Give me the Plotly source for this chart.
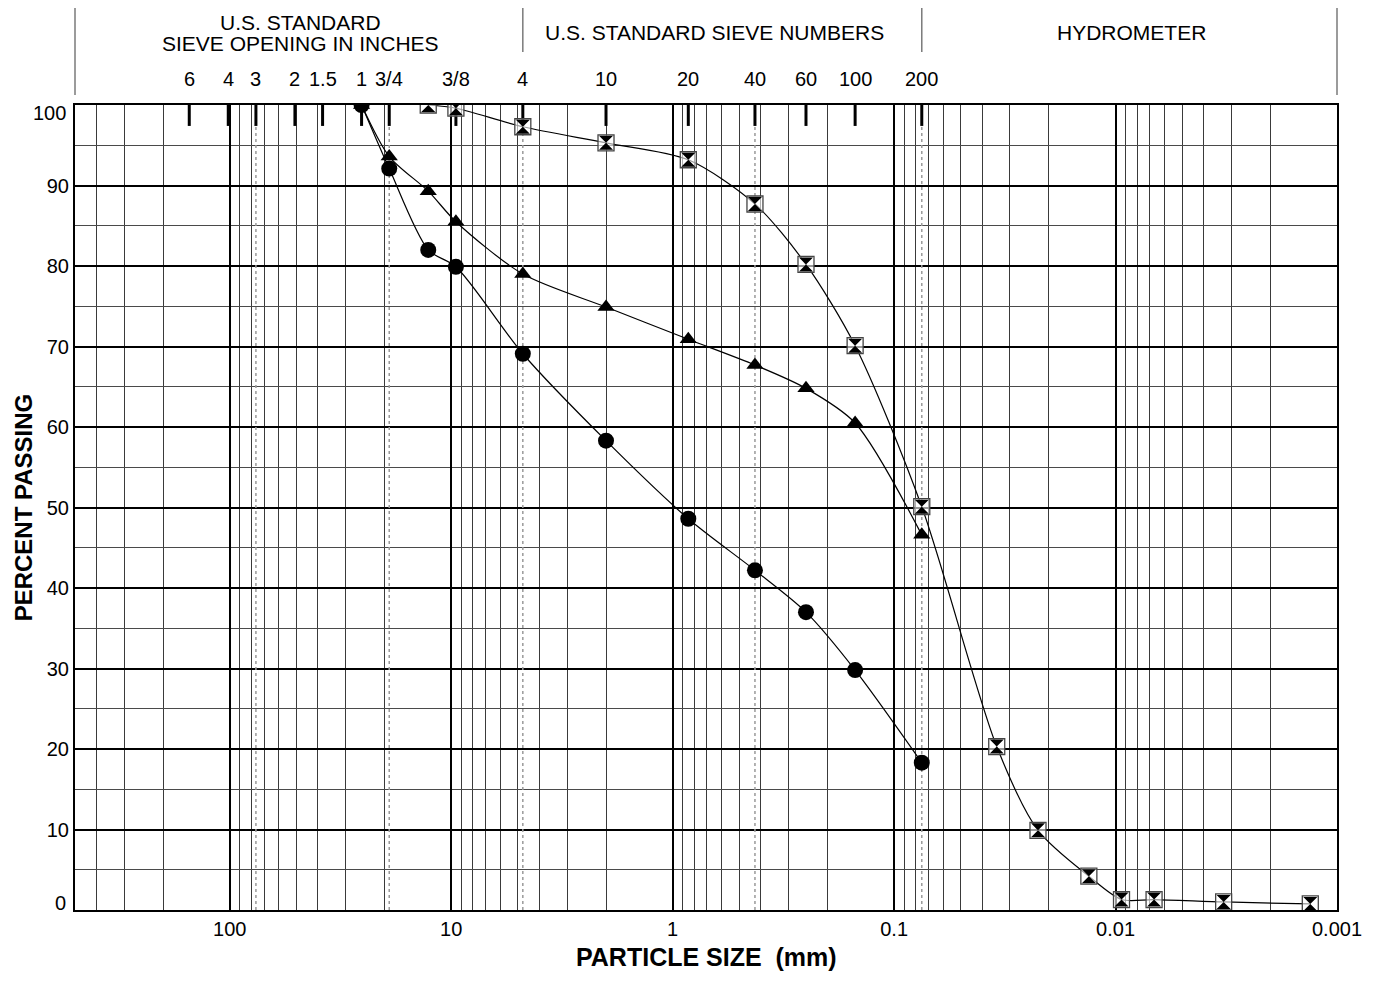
import math
import plotly.graph_objects as go

# ---------------- data ----------------
sieve_labels = ["6", "4", "3", "2", "1.5", "1", "3/4", "3/8", "4", "10", "20", "40", "60", "100", "200"]
sieve_mm = [152.4, 101.6, 76.2, 50.8, 38.1, 25.4, 19.05, 9.525, 4.75, 2.0, 0.85, 0.425, 0.25, 0.15, 0.075]

boundary_mm = [76.2, 19.05, 4.75, 0.425, 0.075]   # dotted classification lines

sizes_a = [25.4, 19.05, 12.7, 9.525, 4.75, 2.0, 0.85, 0.425, 0.25, 0.15, 0.075]
passing_circle = [100, 92.1, 82.0, 79.9, 69.1, 58.3, 48.6, 42.2, 37.0, 29.8, 18.3]
passing_triangle = [100, 93.6, 89.3, 85.5, 79.0, 74.9, 70.9, 67.7, 64.8, 60.5, 46.6]

sizes_b = [12.7, 9.525, 4.75, 2.0, 0.85, 0.425, 0.25, 0.15, 0.075,
           0.0344, 0.0224, 0.0132, 0.0094, 0.0067, 0.00325, 0.00132]
passing_hourglass = [100, 99.6, 97.3, 95.3, 93.2, 87.7, 80.2, 70.1, 50.1,
                     20.3, 9.9, 4.2, 1.3, 1.3, 1.0, 0.75]

x_major = [100, 10, 1, 0.1, 0.01, 0.001]
x_major_text = ["100", "10", "1", "0.1", "0.01", "0.001"]
y_major = [10, 20, 30, 40, 50, 60, 70, 80, 90]
y_minor = [5, 15, 25, 35, 45, 55, 65, 75, 85, 95]

X_MAX, X_MIN = 500, 0.001
FONT = "Liberation Sans, Arial, sans-serif"

x_minor = [200, 300, 400]
for d in [-3, -2, -1, 0, 1]:
    for k in range(2, 10):
        x_minor.append(round(k * 10 ** d, 6))

# page offset (body margin) compensation
OFF = 8
L, T, R, B = 75, 105, 28, 71
W, H = 1374 - OFF, 981 - OFF
PW = W - (L - OFF) - R          # plot width in px
PH = H - (T - OFF) - B          # plot height in px


def xpaper(v):
    lo, hi = math.log10(X_MAX), math.log10(X_MIN)
    return (math.log10(v) - lo) / (hi - lo)


def px_x(px):   # absolute screenshot x -> paper
    return (px - L) / PW


def px_y(py):   # absolute screenshot y -> paper
    return (T + PH - py) / PH


fig = go.Figure()

# dotted boundary lines
bx, by = [], []
for v in boundary_mm:
    bx += [v, v, None]
    by += [0, 100, None]
fig.add_trace(go.Scatter(x=bx, y=by, mode="lines", hoverinfo="skip", showlegend=False,
                         line=dict(color="#9a9a9a", width=1.5, dash="dot")))

# sieve tick marks at top
tx, ty = [], []
for v in sieve_mm:
    tx += [v, v, None]
    ty += [100, 97.4, None]
fig.add_trace(go.Scatter(x=tx, y=ty, mode="lines", hoverinfo="skip", showlegend=False,
                         line=dict(color="black", width=3)))

line_style = dict(color="black", width=1.2, shape="spline", smoothing=0.8)

fig.add_trace(go.Scatter(x=sizes_a, y=passing_triangle, mode="lines+markers", showlegend=False,
                         line=line_style,
                         marker=dict(symbol="triangle-up", size=15, color="black")))
fig.add_trace(go.Scatter(x=sizes_a, y=passing_circle, mode="lines+markers", showlegend=False,
                         line=line_style,
                         marker=dict(symbol="circle", size=16, color="black")))
fig.add_trace(go.Scatter(x=sizes_b, y=passing_hourglass, mode="lines", showlegend=False,
                         line=line_style))
fig.add_trace(go.Scatter(x=sizes_b, y=passing_hourglass, mode="markers", showlegend=False,
                         marker=dict(symbol="square", size=16, color="rgba(255,255,255,0.6)",
                                     line=dict(color="#444", width=1.3))))
fig.add_trace(go.Scatter(x=sizes_b, y=passing_hourglass, mode="markers", showlegend=False,
                         marker=dict(symbol="hourglass", size=14, color="black",
                                     line=dict(width=0))))

# header box shapes
top = px_y(3.5)
low = px_y(95)
mid = px_y(52)
hdr_line = dict(color="#7a7a7a", width=1.5)
shapes = [
    dict(type="line", xref="paper", yref="paper", x0=0, x1=1, y0=top, y1=top, line=hdr_line),
    dict(type="line", xref="paper", yref="paper", x0=0, x1=0, y0=low, y1=top, line=hdr_line),
    dict(type="line", xref="paper", yref="paper", x0=1, x1=1, y0=low, y1=top, line=hdr_line),
]
for v in [4.75, 0.075]:
    p = xpaper(v)
    shapes.append(dict(type="line", xref="paper", yref="paper", x0=p, x1=p, y0=mid, y1=top,
                       line=hdr_line))

annotations = []
for lab, v in zip(sieve_labels, sieve_mm):
    annotations.append(dict(x=xpaper(v), y=px_y(79), xref="paper", yref="paper",
                            text=lab, showarrow=False, xanchor="center", yanchor="middle",
                            font=dict(size=20, color="black", family=FONT)))

hdr = [("U.S. STANDARD", 302, 23), ("SIEVE OPENING IN INCHES", 302, 43),
       ("U.S. STANDARD SIEVE NUMBERS", 719, 32.5), ("HYDROMETER", 1139, 32.5)]
for t, px, py in hdr:
    annotations.append(dict(x=px_x(px), y=px_y(py), xref="paper", yref="paper",
                            text=t, showarrow=False, xanchor="center", yanchor="middle",
                            font=dict(size=21, color="black", family=FONT)))

# y labels 0 and 100 (kept inside the frame as in the original)
annotations.append(dict(x=px_x(68), y=px_y(903), xref="paper", yref="paper",
                        text="0", showarrow=False, xanchor="right", yanchor="middle",
                        font=dict(size=20, color="black", family=FONT)))
annotations.append(dict(x=px_x(68), y=px_y(113), xref="paper", yref="paper",
                        text="100", showarrow=False, xanchor="right", yanchor="middle",
                        font=dict(size=20, color="black", family=FONT)))

# axis titles
annotations.append(dict(x=0.5, y=px_y(957), xref="paper", yref="paper",
                        text="<b>PARTICLE SIZE\u00a0\u00a0(mm)</b>", showarrow=False,
                        xanchor="center", yanchor="middle",
                        font=dict(size=25, color="black", family=FONT)))
annotations.append(dict(x=px_x(23), y=px_y(507), xref="paper", yref="paper",
                        text="<b>PERCENT PASSING</b>", showarrow=False, textangle=-90,
                        xanchor="center", yanchor="middle", borderpad=0,
                        font=dict(size=24, color="black", family=FONT)))

fig.update_layout(
    width=W, height=H,
    margin=dict(l=L - OFF, r=R, t=T - OFF, b=B),
    paper_bgcolor="white", plot_bgcolor="white",
    font=dict(family=FONT, size=20, color="black"),
    shapes=shapes, annotations=annotations,
    xaxis=dict(type="log", range=[math.log10(X_MAX), math.log10(X_MIN)],
               tickvals=x_major, ticktext=x_major_text,
               showgrid=True, gridcolor="black", gridwidth=2,
               minor=dict(tickvals=x_minor, showgrid=True, gridcolor="#3a3a3a", gridwidth=1, ticks=""),
               showline=True, mirror=True, linecolor="black", linewidth=2,
               ticks="", zeroline=False, tickfont=dict(size=20, family=FONT)),
    yaxis=dict(range=[0, 100], tickvals=y_major,
               showgrid=True, gridcolor="black", gridwidth=2,
               minor=dict(tickvals=y_minor, showgrid=True, gridcolor="#4a4a4a", gridwidth=1, ticks=""),
               showline=True, mirror=True, linecolor="black", linewidth=2,
               ticks="", zeroline=False, tickfont=dict(size=20, family=FONT)),
)

fig.write_html("out.html")
